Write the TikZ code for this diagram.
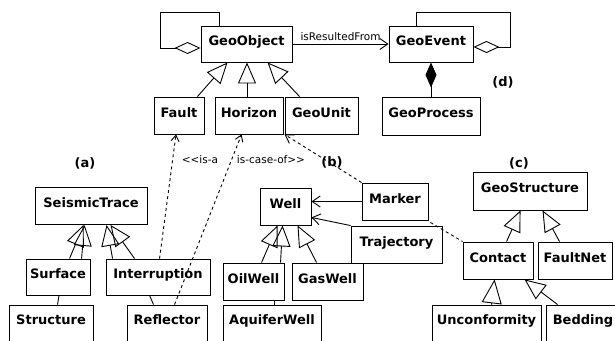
\documentclass[tikz,border=0pt]{standalone}
\usepackage{fontspec}
\setmainfont{DejaVu Sans}
\usetikzlibrary{arrows.meta,calc}
\newcommand\umlcls[6]{\node[box,minimum width=#4pt,minimum height=#5pt] (#1) at (#2,#3) {#6};}
\newcommand\umllow[5]{\node[box,text depth=14pt,minimum width=#4pt,minimum height=44pt] (#1) at (#2,#3) {#5};}
\begin{document}
\begin{tikzpicture}[x=1pt,y=-1pt,
  line width=0.9pt,
  box/.style={draw,fill=white,inner sep=0pt,font=\bfseries\fontsize{13}{15}\selectfont,text height=9.5pt,text depth=6pt},
  gen/.style={-{Triangle[open,length=21pt,width=18pt]}},
  aggr/.style={{Diamond[open,length=26pt,width=12pt]}-},
  comp/.style={{Diamond[fill=black,length=25pt,width=11pt]}-},
  assoc/.style={-{Straight Barb[length=8pt,width=11pt]}},
  dep/.style={dash pattern=on 3pt off 3pt,-{Straight Barb[length=6pt,width=8pt]}},
  depline/.style={dash pattern=on 3pt off 3pt},
  lbl/.style={font=\fontsize{10.5}{12}\selectfont,inner sep=0pt},
  lblb/.style={font=\bfseries\fontsize{13}{15}\selectfont,inner sep=0pt}]
\useasboundingbox (0,0) rectangle (615,340);
% classes
\umlcls{geoobject}{246.5}{44}{91}{36}{GeoObject}
\umlcls{geoevent}{431}{44}{84}{36}{GeoEvent}
\umlcls{geoprocess}{431}{116}{98}{38}{GeoProcess}
\umlcls{fault}{179}{115.5}{50}{37}{Fault}
\umlcls{horizon}{249}{115.5}{68}{37}{Horizon}
\umlcls{geounit}{321.5}{115.5}{73}{37}{GeoUnit}
\umlcls{seismictrace}{91}{206}{112}{37}{SeismicTrace}
\umlcls{surface}{58}{277}{64}{36}{Surface}
\umlcls{interruption}{158}{277}{104}{36}{Interruption}
\umllow{structure}{51}{327}{84}{Structure}
\umllow{reflector}{167}{327}{80}{Reflector}
\umlcls{well}{285.5}{206.5}{51}{37}{Well}
\umlcls{marker}{395}{201.5}{66}{37}{Marker}
\umlcls{trajectory}{396.5}{244.5}{91}{37}{Trajectory}
\umlcls{oilwell}{253.5}{281.5}{61}{37}{OilWell}
\umlcls{gaswell}{327.5}{281.5}{71}{37}{GasWell}
\umllow{aquiferwell}{272}{327}{98}{AquiferWell}
\umlcls{geostructure}{530}{191}{114}{38}{GeoStructure}
\umlcls{contact}{498}{260.5}{70}{37}{Contact}
\umlcls{faultnet}{575}{260.5}{74}{37}{FaultNet}
\umllow{unconformity}{486.5}{327}{109}{Unconformity}
\umllow{bedding}{583}{327}{74}{Bedding}
% labels
\node[lblb] (la) at (85,163) {(a)};
\node[lblb] (lb) at (332,162) {(b)};
\node[lblb] (lc) at (519,163) {(c)};
\node[lblb] (ld) at (503,82) {(d)};
\node[lbl] (isa) at (200,160) {<{}<is-a};
\node[lbl] (iscase) at (271,160) {is-case-of>{}>};
% top part
\draw[aggr] ($(geoobject.west)+(0,4)$) -- ++(-40,0) |- ($(geoobject.north west)+(19,-13)$) -- ($(geoobject.north west)+(19,0)$);
\draw[aggr] ($(geoevent.east)+(0,3)$) -- ++(37,0) |- ($(geoevent.north west)+(28,-13)$) -- ($(geoevent.north west)+(28,0)$);
\draw[comp] (geoevent.south) -- (geoprocess.north);
\draw[assoc] (geoobject.east) -- (geoevent.west) node[midway,above=3pt,lbl] {isResultedFrom};
\draw[gen] ($(fault.north east)+(-7,0)$) -- ($(geoobject.south west)+(27,0)$);
\draw[gen] ($(horizon.north)+(-2,0)$) -- ($(geoobject.south)+(0.5,0)$);
\draw[gen] ($(geounit.north west)+(15,0)$) -- ($(geoobject.south west)+(67,0)$);
% (a)
\draw[gen] ($(surface.north west)+(44,0)$) -- ($(seismictrace.south west)+(49,0)$);
\draw[gen] ($(surface.north west)+(56,0)$) -- ($(seismictrace.south west)+(50,0)$);
\draw[gen] ($(interruption.north west)+(7,0)$) -- ($(seismictrace.south west)+(72,0)$);
\draw[gen] ($(interruption.north west)+(29,0)$) -- ($(seismictrace.south west)+(76,0)$);
\draw ($(surface.south)+(1,0)$) -- ($(structure.north west)+(49,0)$);
\draw ($(interruption.south west)+(44,0)$) -- ($(reflector.north west)+(27,0)$);
\draw[dep] ($(interruption.north west)+(54,0)$) -- ($(fault.south)+(-3,0)$);
\draw[dep] ($(reflector.north west)+(48,0)$) -- ($(horizon.south west)+(27,0)$);
% (b)
\draw[dep,-{Straight Barb[length=8pt,width=10pt]}] (marker.north west) -- (geounit.south west);
\draw[depline] ($(marker.south east)+(2,2)$) -- (contact.north west);
\draw[assoc] (marker.west) -- (marker.west -| well.east);
\draw[assoc] (trajectory.north west) -- ($(well.south east)+(0,-8)$);
\draw[gen] ($(oilwell.north west)+(39,0)$) -- ($(well.south west)+(18,0)$);
\draw[gen] ($(oilwell.north west)+(58,0)$) -- ($(well.south west)+(23,0)$);
\draw[gen] ($(gaswell.north west)+(25,0)$) -- ($(well.south west)+(38,0)$);
\draw ($(oilwell.south west)+(52,0)$) -- ($(aquiferwell.north west)+(52,0)$);
% (c)
\draw[gen] ($(contact.north west)+(44,0)$) -- ($(geostructure.south west)+(48,0)$);
\draw[gen] ($(faultnet.north west)+(22,0)$) -- ($(geostructure.south west)+(70,0)$);
\draw[-{Triangle[open,length=24pt,width=20pt]}] ($(unconformity.north west)+(60,0)$) -- ($(contact.south west)+(32,0)$);
\draw[gen] ($(bedding.north west)+(12,0)$) -- ($(contact.south west)+(62,0)$);
\end{tikzpicture}
\end{document}
